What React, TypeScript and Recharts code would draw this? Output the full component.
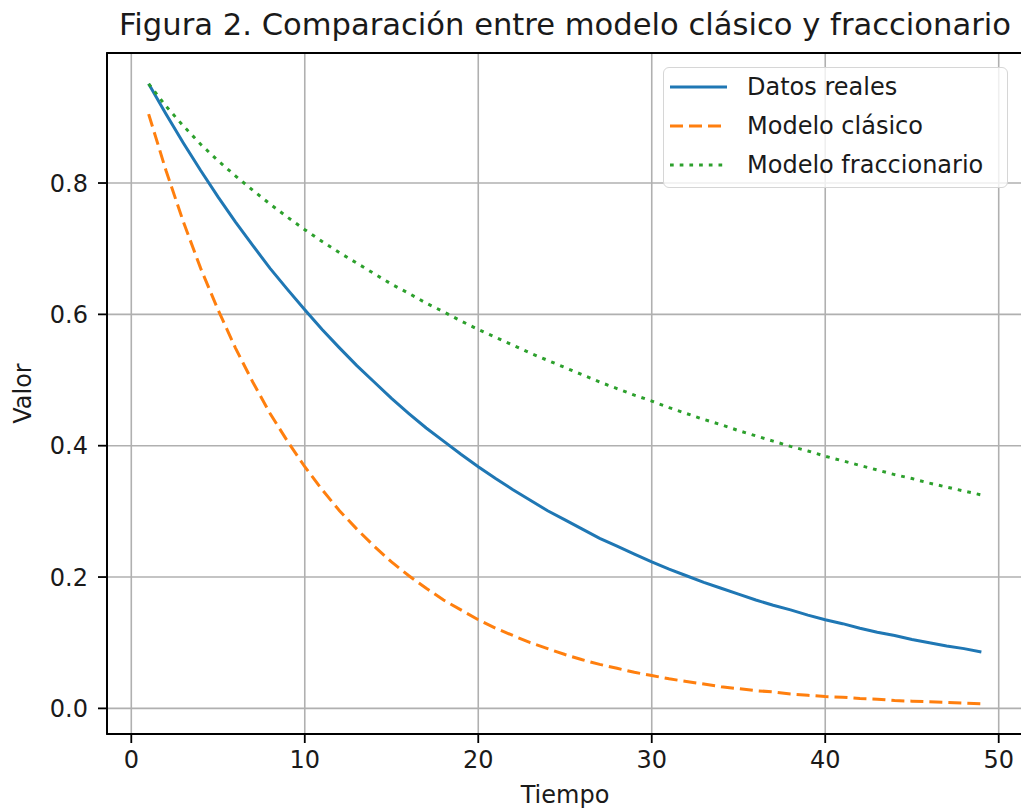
import React from "react";
import {
  LineChart,
  Line,
  XAxis,
  YAxis,
  CartesianGrid,
  ReferenceArea,
} from "recharts";

// Valores (t = 1..49)
const tiempo = [
  1, 2, 3, 4, 5, 6, 7, 8, 9, 10, 11, 12, 13, 14, 15, 16, 17, 18, 19, 20, 21, 22, 23, 24, 25,
  26, 27, 28, 29, 30, 31, 32, 33, 34, 35, 36, 37, 38, 39, 40, 41, 42, 43, 44, 45, 46, 47, 48, 49,
];

const datosReales = [
  0.951, 0.905, 0.861, 0.819, 0.779, 0.741, 0.705, 0.67, 0.638, 0.607, 0.577, 0.549, 0.522,
  0.497, 0.472, 0.449, 0.427, 0.407, 0.387, 0.368, 0.35, 0.333, 0.317, 0.301, 0.287, 0.273,
  0.259, 0.247, 0.235, 0.223, 0.212, 0.202, 0.192, 0.183, 0.174, 0.165, 0.157, 0.15, 0.142,
  0.135, 0.129, 0.122, 0.116, 0.111, 0.105, 0.1, 0.095, 0.091, 0.086,
];

const modeloClasico = [
  0.905, 0.819, 0.741, 0.67, 0.607, 0.549, 0.497, 0.449, 0.407, 0.368, 0.333, 0.301, 0.273,
  0.247, 0.223, 0.202, 0.183, 0.165, 0.15, 0.135, 0.122, 0.111, 0.1, 0.091, 0.082, 0.074,
  0.067, 0.061, 0.055, 0.05, 0.045, 0.041, 0.037, 0.033, 0.03, 0.027, 0.025, 0.022, 0.02,
  0.018, 0.017, 0.015, 0.014, 0.012, 0.011, 0.01, 0.009, 0.008, 0.007,
];

const modeloFraccionario = [
  0.951, 0.917, 0.887, 0.859, 0.834, 0.811, 0.789, 0.768, 0.748, 0.729, 0.711, 0.694, 0.678,
  0.662, 0.646, 0.632, 0.617, 0.604, 0.59, 0.577, 0.565, 0.553, 0.541, 0.53, 0.519, 0.508,
  0.497, 0.487, 0.477, 0.468, 0.458, 0.449, 0.44, 0.432, 0.423, 0.415, 0.407, 0.399, 0.392,
  0.384, 0.377, 0.37, 0.363, 0.356, 0.35, 0.343, 0.337, 0.331, 0.325,
];

const xTicks = [0, 10, 20, 30, 40, 50];
const yTicks = [0, 0.2, 0.4, 0.6, 0.8];
const xDomain: [number, number] = [-1.4, 51.4];
const yDomain: [number, number] = [-0.039, 0.998];

const series = [
  { key: "real", name: "Datos reales", color: "#1f77b4", dash: undefined as string | undefined },
  { key: "clasico", name: "Modelo clásico", color: "#ff7f0e", dash: "13 6" },
  { key: "frac", name: "Modelo fraccionario", color: "#2ca02c", dash: "3.7 6" },
];

const FONT = "'DejaVu Sans', sans-serif";
const TEXT = "#1a1a1a";

export default function App() {
  const data = tiempo.map((t, i) => ({
    t,
    real: datosReales[i],
    clasico: modeloClasico[i],
    frac: modeloFraccionario[i],
  }));

  return (
    <div
      style={{
        position: "absolute",
        left: 0,
        top: 0,
        width: 1021,
        height: 811,
        overflow: "hidden",
        background: "#fff",
        fontFamily: FONT,
      }}
    >
      {/* Título */}
      <div
        style={{
          position: "absolute",
          left: 107,
          width: 916,
          top: 7,
          textAlign: "center",
          fontSize: 30.6,
          color: TEXT,
          whiteSpace: "nowrap",
        }}
      >
        Figura 2. Comparación entre modelo clásico y fraccionario
      </div>

      <LineChart
        width={1030}
        height={811}
        data={data}
        margin={{ top: 53, right: 7, left: 0, bottom: 37 }}
        style={{ position: "absolute", left: 0, top: 0 }}
      >
        <CartesianGrid stroke="#b0b0b0" strokeWidth={1.6} />
        <XAxis
          dataKey="t"
          type="number"
          domain={xDomain}
          ticks={xTicks}
          allowDataOverflow
          height={40}
          tickSize={9}
          tickMargin={8}
          axisLine={{ stroke: "#000", strokeWidth: 1.8 }}
          tickLine={{ stroke: "#000", strokeWidth: 1.8 }}
          tick={{ fill: TEXT, fontSize: 24, fontFamily: FONT }}
          label={{
            value: "Tiempo",
            position: "bottom",
            offset: 12,
            fill: TEXT,
            fontSize: 24,
            fontFamily: FONT,
          }}
        />
        <YAxis
          type="number"
          domain={yDomain}
          ticks={yTicks}
          allowDataOverflow
          width={107}
          tickSize={9}
          tickMargin={10}
          tickFormatter={(v: number) => v.toFixed(1)}
          axisLine={{ stroke: "#000", strokeWidth: 1.8 }}
          tickLine={{ stroke: "#000", strokeWidth: 1.8 }}
          tick={{ fill: TEXT, fontSize: 24, fontFamily: FONT }}
          label={{
            content: (props: any) => {
              const vb = props.viewBox || {};
              const cy = (vb.y || 0) + (vb.height || 0) / 2;
              return (
                <text
                  x={31}
                  y={cy}
                  transform={`rotate(-90, 31, ${cy})`}
                  textAnchor="middle"
                  fill={TEXT}
                  fontSize={24}
                  fontFamily={FONT}
                >
                  Valor
                </text>
              );
            },
          }}
        />
        {series.map((s) => (
          <Line
            key={s.key}
            type="linear"
            dataKey={s.key}
            name={s.name}
            stroke={s.color}
            strokeWidth={3}
            strokeDasharray={s.dash}
            dot={false}
            activeDot={false}
            isAnimationActive={false}
          />
        ))}
        <ReferenceArea
          x1={xDomain[0]}
          x2={xDomain[1]}
          y1={yDomain[0]}
          y2={yDomain[1]}
          fill="none"
          stroke="#000"
          strokeWidth={1.8}
          ifOverflow="visible"
        />
      </LineChart>

      {/* Leyenda */}
      <div
        style={{
          position: "absolute",
          left: 663,
          top: 67,
          width: 345,
          height: 121,
          boxSizing: "border-box",
          border: "1.6px solid #d6d6d6",
          borderRadius: 6,
          background: "rgba(255,255,255,0.8)",
        }}
      >
        {series.map((s, i) => (
          <div
            key={s.key}
            style={{
              position: "absolute",
              left: 6,
              top: 1 + i * 39,
              height: 36,
              display: "flex",
              alignItems: "center",
            }}
          >
            <svg width={57} height={10} style={{ display: "block" }}>
              <line
                x1={0}
                y1={5}
                x2={57}
                y2={5}
                stroke={s.color}
                strokeWidth={3}
                strokeDasharray={s.dash}
              />
            </svg>
            <span
              style={{
                marginLeft: 20,
                fontSize: 24,
                color: TEXT,
                whiteSpace: "nowrap",
              }}
            >
              {s.name}
            </span>
          </div>
        ))}
      </div>
    </div>
  );
}
